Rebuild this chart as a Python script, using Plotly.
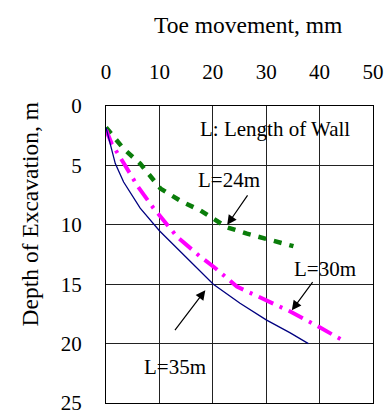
import plotly.graph_objects as go

# Toe movement (mm) vs depth of excavation (m) for three wall lengths
x_l35 = [0, 0.9, 1.74, 3.3, 6.4, 10.0, 15.2, 20.1, 25.1, 30.0, 34.5, 37.9]
y_l35 = [1.8, 3.4, 4.85, 6.4, 8.6, 10.5, 12.85, 15.0, 16.6, 18.0, 19.1, 20.0]

x_l30 = [0, 1.1, 3.3, 6.0, 8.9, 13.3, 17.7, 20.2, 24.5, 29.9, 34.5, 40.1, 45.0]
y_l30 = [2.0, 3.2, 4.8, 6.8, 8.6, 11.0, 12.7, 13.55, 15.2, 16.35, 17.3, 18.65, 19.9]

x_l24 = [0, 3.3, 6.4, 10.2, 14.0, 17.7, 22.6, 26.4, 35.1]
y_l24 = [1.8, 3.6, 4.85, 6.95, 8.0, 8.8, 10.2, 10.75, 11.8]

x_ticks = [0, 10, 20, 30, 40, 50]
y_ticks = [0, 5, 10, 15, 20, 25]

FONT = "'Liberation Serif', 'Times New Roman', 'DejaVu Serif', serif"
FS = 21
FS_TITLE = 23.5

fig = go.Figure()
fig.add_trace(go.Scatter(x=x_l24, y=y_l24, mode="lines",
                         line=dict(color="#0a7d0a", width=4.5, dash="8px,8px")))
fig.add_trace(go.Scatter(x=x_l30, y=y_l30, mode="lines",
                         line=dict(color="#ff00ff", width=4, dash="16px,7px,3px,7px")))
fig.add_trace(go.Scatter(x=x_l35, y=y_l35, mode="lines",
                         line=dict(color="#000080", width=1.3)))

annotations = [
    dict(x=31.7, y=1.9, text="L: Length of Wall", showarrow=False),
    dict(x=23.0, y=6.25, text="L=24m", showarrow=False),
    dict(x=41.1, y=13.7, text="L=30m", showarrow=False),
    dict(x=13.0, y=22.0, text="L=35m", showarrow=False),
    # arrows pointing from the labels to the curves
    dict(x=22.7, y=10.0, ax=26.7, ay=7.4, text=""),
    dict(x=34.8, y=17.2, ax=38.9, ay=14.7, text=""),
    dict(x=18.6, y=15.5, ax=12.7, ay=19.0, text=""),
]
for a in annotations:
    a.update(xref="x", yref="y", font=dict(family=FONT, size=FS, color="black"))
    if a["text"] == "":
        a.update(axref="x", ayref="y", showarrow=True, arrowhead=2,
                 arrowsize=1.6, arrowwidth=1.2, arrowcolor="black", standoff=0)
    fig.add_annotation(**a)

# axis titles, placed relative to the plotting area
fig.add_annotation(xref="paper", yref="paper", x=0.532, y=1.2727,
                   xanchor="center", yanchor="middle",
                   text="Toe movement, mm", showarrow=False,
                   font=dict(family=FONT, size=FS_TITLE, color="black"))
fig.add_annotation(xref="paper", yref="paper", x=-0.283, y=0.6364,
                   xanchor="center", yanchor="middle",
                   text="Depth of Excavation, m", textangle=-90, showarrow=False,
                   font=dict(family=FONT, size=FS_TITLE, color="black"))

axis_common = dict(showgrid=True, gridcolor="#222", gridwidth=1,
                   showline=True, linecolor="black", linewidth=1, mirror=True,
                   zeroline=False, ticks="outside", tickcolor="rgba(0,0,0,0)",
                   showticklabels=True, ticklabeloverflow="allow", automargin=False,
                   tickfont=dict(family=FONT, size=FS, color="black"))

fig.update_xaxes(range=[0, 50], tickvals=x_ticks, side="top",
                 ticklen=18, **axis_common)
fig.update_yaxes(range=[25, 0], tickvals=y_ticks,
                 ticklen=19, **axis_common)

fig.update_layout(width=387, height=414, showlegend=False,
                  margin=dict(l=106, r=14, t=106, b=11),
                  font=dict(family=FONT),
                  paper_bgcolor="white", plot_bgcolor="white")

fig.write_html("out.html")
